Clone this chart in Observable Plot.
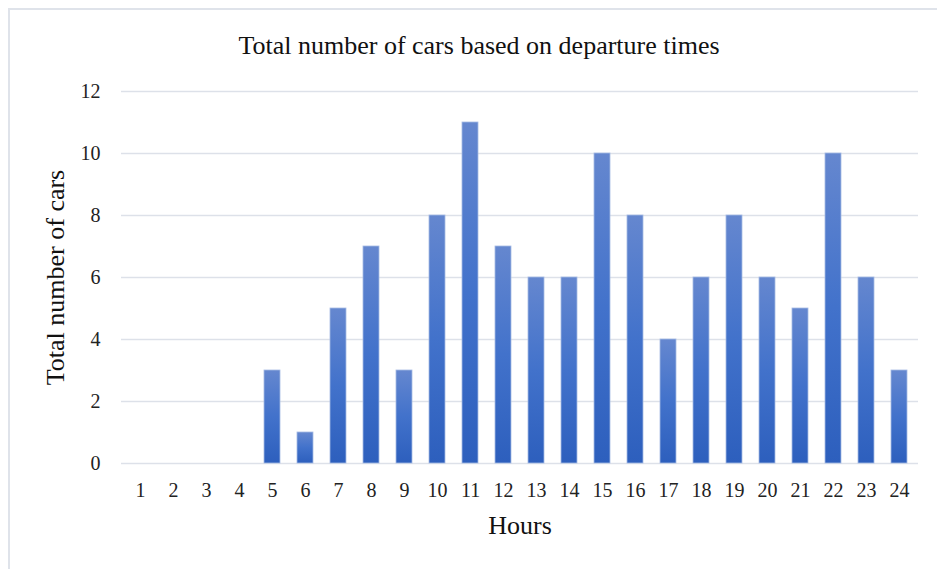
<!DOCTYPE html>
<html>
<head>
<meta charset="utf-8">
<script src="https://cdn.jsdelivr.net/npm/d3@7"></script>
<script src="https://cdn.jsdelivr.net/npm/@observablehq/plot@0.6"></script>
<style>
  html, body { margin: 0; padding: 0; background: #fff; }
  #wrap { position: relative; width: 937px; height: 569px; overflow: hidden; }
  #border { position: absolute; left: 8px; top: 8px; width: 1000px; height: 700px;
            border-left: 2px solid #dfe3ea; border-top: 2px solid #dfe3ea; box-sizing: border-box; }
  #chart { position: absolute; left: 0; top: 0; }
</style>
</head>
<body>
<div id="wrap"><div id="border"></div><div id="chart"></div></div>
<script>
const titleText = "Total number of cars based on departure times";
const xLabel = "Hours";
const yLabel = "Total number of cars";
const hours = ["1","2","3","4","5","6","7","8","9","10","11","12","13","14","15","16","17","18","19","20","21","22","23","24"];
const cars = [0,0,0,0,3,1,5,7,3,8,11,7,6,6,10,8,4,6,8,6,5,10,6,3];
const yTicks = [0,2,4,6,8,10,12];

const data = hours.map((h, i) => ({hour: h, cars: cars[i]}));

const plot = Plot.plot({
  width: 937,
  height: 569,
  marginLeft: 121,
  marginRight: 19,
  marginTop: 91,
  marginBottom: 106,
  style: {fontFamily: "'Liberation Serif', 'Times New Roman', serif", fontSize: "20px", color: "#222", background: "transparent", overflow: "visible"},
  x: {domain: hours, paddingInner: 0.52, paddingOuter: 0.26, label: null},
  y: {domain: [0, 12], label: null},
  marks: [
    Plot.gridY(yTicks, {stroke: "#dde1e9", strokeOpacity: 1, strokeWidth: 1.6}),
    Plot.barY(data, {x: "hour", y: "cars", fill: "url(#barGrad)", stroke: "#a6bbe4", strokeWidth: 0.8}),
    Plot.axisY({ticks: yTicks, tickSize: 0, tickPadding: 21, fontSize: 20}),
    Plot.axisX({tickSize: 0, tickPadding: 19, fontSize: 20}),
    Plot.text([titleText], {frameAnchor: "top", dx: -41, dy: -46, lineAnchor: "middle", fontSize: 26, fill: "#111"}),
    Plot.text([xLabel], {frameAnchor: "bottom", dy: 62, lineAnchor: "middle", fontSize: 26, fill: "#111"}),
    Plot.text([yLabel], {frameAnchor: "left", dx: -66, rotate: -90, lineAnchor: "middle", textAnchor: "middle", fontSize: 26, fill: "#111"})
  ]
});

const svg = d3.select(plot);
const grad = svg.insert("defs", ":first-child").append("linearGradient")
  .attr("id", "barGrad").attr("x1", 0).attr("y1", 0).attr("x2", 0).attr("y2", 1);
grad.append("stop").attr("offset", "0%").attr("stop-color", "#6587cf");
grad.append("stop").attr("offset", "50%").attr("stop-color", "#4272cb");
grad.append("stop").attr("offset", "100%").attr("stop-color", "#2d5fbd");

document.getElementById("chart").appendChild(plot);
</script>
</body>
</html>
